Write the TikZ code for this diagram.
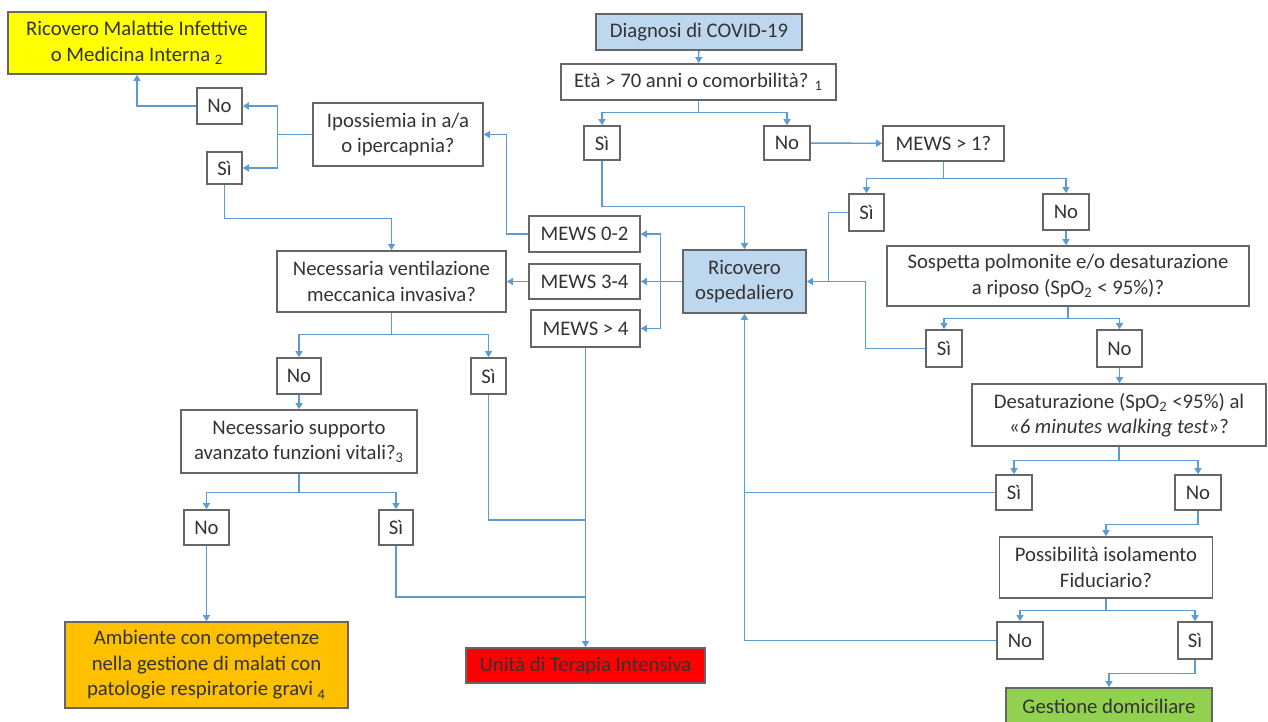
\documentclass[tikz,border=0pt]{standalone}
\usepackage{fontspec}
\setmainfont{Carlito}
\usetikzlibrary{arrows.meta}
\definecolor{boxblue}{HTML}{BDD7EE}
\definecolor{linkblue}{HTML}{5B9BD5}
\definecolor{boxyellow}{HTML}{FFFF00}
\definecolor{boxorange}{HTML}{FFC000}
\definecolor{boxred}{HTML}{FF0000}
\definecolor{boxgreen}{HTML}{92D050}
\def\pedice#1{\textsubscript{#1}}

\begin{document}
\begin{tikzpicture}[x=0.02cm, y=-0.02cm,
	box/.style={draw=black!60, line width=0.9pt, text=black!80, align=center, inner sep=1pt, font=\fontsize{11.8}{14.5}\selectfont},
	sz/.style 2 args={minimum width=#1*0.02cm, minimum height=#2*0.02cm},
	conn/.style={draw=linkblue, line width=0.8pt, -{Triangle[length=3.5pt,width=4pt]}},
	link/.style={draw=linkblue, line width=0.8pt}]
			%%%%% START %%%%%
			\useasboundingbox (0,0) rectangle (1268,722);
			
			\node[box, fill=boxyellow, sz={258}{62}] (ricmi) at (137,43) {Ricovero Malattie Infettive\\o Medicina Interna \pedice{2}};
			\node[box, fill=boxblue, sz={206}{36}] (diagnosi) at (699,32) {Diagnosi di COVID-19};
			\node[box, sz={275}{36}] (eta) at (698.5,82) {Età > 70 anni o comorbilità? \pedice{1}};
			\node[box, sz={36}{34}] (etasi) at (602,143) {Sì};
			\node[box, sz={46}{34}] (etano) at (787,143) {No};
			
			\node[box, sz={121}{35}] (mews) at (943.5,143.5) {MEWS > 1?};
			\node[box, sz={35}{37}] (mewssi) at (866.5,212.5) {Sì};
			\node[box, sz={46}{36}] (mewsno) at (1066,212) {No};
			\node[box, sz={362}{60}] (sosp) at (1068,276) {Sospetta polmonite e/o desaturazione\\a riposo (SpO\pedice{2} < 95\%)?};
			\node[box, sz={36}{37}] (sospsi) at (944,348.5) {Sì};
			\node[box, sz={45}{37}] (sospno) at (1119.5,348.5) {No};
			\node[box, sz={294}{62}] (desat) at (1119,415) {Desaturazione (SpO\pedice{2} <95\%) al\\«\textit{6 minutes walking test}»?};
			\node[box, sz={36}{35}] (desatsi) at (1014,492.5) {Sì};
			\node[box, sz={46}{35}] (desatno) at (1198,492.5) {No};
			\node[box, sz={213}{61}] (isol) at (1106,567.5) {Possibilità isolamento\\Fiduciario?};
			\node[box, sz={46}{37}] (isolno) at (1020,640.5) {No};
			\node[box, sz={34}{37}] (isolsi) at (1195,640.5) {Sì};
			\node[box, fill=boxgreen, sz={206}{36}] (domicilio) at (1109,706) {Gestione domiciliare};
			
			\node[box, fill=boxblue, sz={123}{63}] (ricovero) at (744.5,281.5) {Ricovero\\ospedaliero};
			\node[box, sz={111}{36}] (mewsa) at (584.5,234) {MEWS 0-2};
			\node[box, sz={111}{35}] (mewsb) at (584.5,281.5) {MEWS 3-4};
			\node[box, sz={109}{37}] (mewsc) at (585.5,328.5) {MEWS > 4};
			
			\node[box, sz={170}{63}] (ipox) at (398,134.5) {Ipossiemia in a/a\\o ipercapnia?};
			\node[box, sz={45}{36}] (ipoxno) at (219.5,106) {No};
			\node[box, sz={35}{32}] (ipoxsi) at (224.5,168) {Sì};
			\node[box, sz={229}{61}] (vmi) at (391.5,281.5) {Necessaria ventilazione\\meccanica invasiva?};
			\node[box, sz={44}{36}] (vmino) at (299,376) {No};
			\node[box, sz={35}{36}] (vmisi) at (488.5,376) {Sì};
			\node[box, sz={236}{63}] (supp) at (299,441.5) {Necessario supporto\\avanzato funzioni vitali?\pedice{3}};
			\node[box, sz={45}{35}] (suppno) at (206.5,527.5) {No};
			\node[box, sz={34}{35}] (suppsi) at (396,527.5) {Sì};
			\node[box, fill=boxorange, sz={283}{86}] (ambiente) at (206.5,665) {Ambiente con competenze\\nella gestione di malati con\\patologie respiratorie gravi \pedice{4}};
			\node[box, fill=boxred, sz={239}{35}] (uti) at (585.5,665.5) {Unità di Terapia Intensiva};
			
			% triage iniziale
			\draw[conn] (diagnosi) -- (eta);
			\draw[link] (eta.south) -- ++(0,12) coordinate (etabar);
			\draw[conn] (etabar) -| (etasi.north);
			\draw[conn] (etabar) -| (etano.north);
			\draw[conn] (etano) -- (mews);
			\draw[conn] (etasi.south) -- ++(0,46) -| (ricovero.north);
			
			% ramo destro
			\coordinate (ricdx) at ([xshift=0.44cm]ricovero.east);
			\draw[link] (mews.south) -- ++(0,17) coordinate (mewsbar);
			\draw[conn] (mewsbar) -| (mewssi.north);
			\draw[conn] (mewsbar) -| (mewsno.north);
			\draw[conn] (mewsno.south) -- (mewsno.south |- sosp.north);
			\draw[link] (mewssi.west) -| (ricdx);
			\draw[link] (sosp.south) -- ++(0,12) coordinate (sospbar);
			\draw[conn] (sospbar) -| (sospsi.north);
			\draw[conn] (sospbar) -| (sospno.north);
			\draw[conn] (sospsi.west) -- ++(-60,0) |- (ricovero.east);
			\draw[conn] (sospno.south) -- (sospno.south |- desat.north);
			\draw[link] (desat.south) -- ++(0,14) coordinate (desatbar);
			\draw[conn] (desatbar) -| (desatsi.north);
			\draw[conn] (desatbar) -| (desatno.north);
			\draw[conn] (desatno.south) -- ++(0,14) -| (isol.north);
			\draw[conn] (desatsi.west) -| (ricovero.south);
			\draw[link] (isol.south) -- ++(0,12) coordinate (isolbar);
			\draw[conn] (isolbar) -| (isolno.north);
			\draw[conn] (isolbar) -| (isolsi.north);
			\draw[link] (isolno.west) -| (desatsi.west -| ricovero.south);
			\draw[conn] (isolsi.south) -- ++(0,14) -| (domicilio.north);
			
			% ramo sinistro
			\coordinate (ricsx) at ([xshift=-0.44cm]ricovero.west);
			\draw[conn] (ricovero.west) -- (mewsb.east);
			\draw[conn] (ricsx) |- (mewsa.east);
			\draw[conn] (ricsx) |- (mewsc.east);
			\draw[conn] (mewsb) -- (vmi);
			\draw[conn] (mewsa.west) -- ++(-22,0) |- (ipox.east);
			\draw[link] (ipox.west) -- ++(-35,0) coordinate (ipoxbar);
			\draw[conn] (ipoxbar) |- (ipoxno.east);
			\draw[conn] (ipoxbar) |- (ipoxsi.east);
			\draw[conn] (ipoxno.west) -| (ricmi.south);
			\draw[conn] (ipoxsi.south) -- ++(0,34) -| (vmi.north);
			\draw[link] (vmi.south) -- ++(0,22) coordinate (vmibar);
			\draw[conn] (vmibar) -| (vmino.north);
			\draw[conn] (vmibar) -| (vmisi.north);
			\draw[conn] (vmino) -- (supp);
			\draw[conn] (mewsc) -- (uti);
			\draw[link] (vmisi.south) |- (uti.north |- 0,520);
			\draw[link] (supp.south) -- ++(0,19) coordinate (suppbar);
			\draw[conn] (suppbar) -| (suppno.north);
			\draw[conn] (suppbar) -| (suppsi.north);
			\draw[conn] (suppno) -- (ambiente);
			\draw[link] (suppsi.south) |- (uti.north |- 0,597);
			
			%%%%% END %%%%%
\end{tikzpicture}
\end{document}
